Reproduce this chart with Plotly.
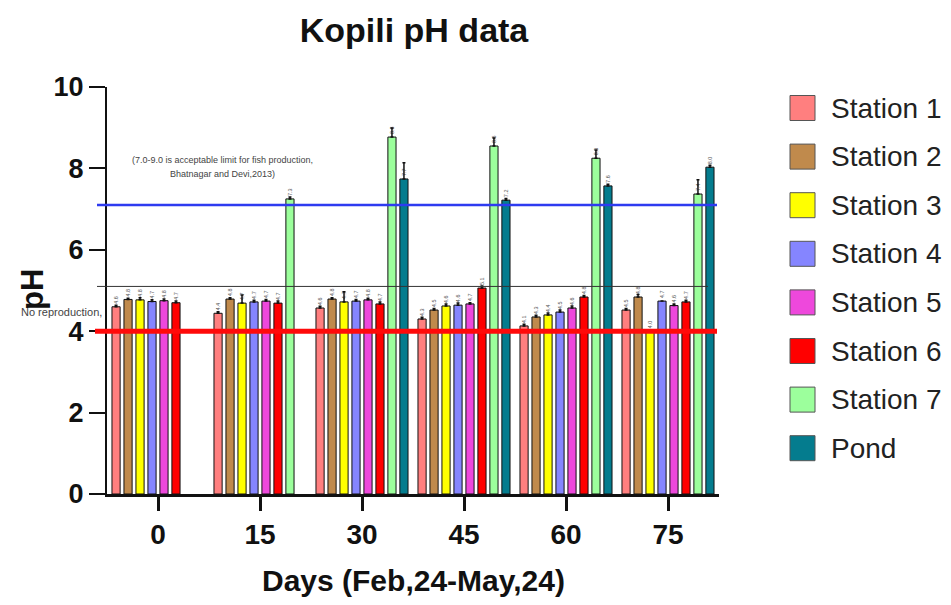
import plotly.graph_objects as go

# ---- data ----
days = ["0", "15", "30", "45", "60", "75"]
series_names = ["Station 1", "Station 2", "Station 3", "Station 4",
                "Station 5", "Station 6", "Station 7", "Pond"]
series_colors = ["#FF7F7F", "#C08A4C", "#FFFF00", "#8585FF",
                 "#EE48DC", "#FF0000", "#9CFF9C", "#047C8E"]

ph_station1 = [4.60, 4.44, 4.57, 4.30, 4.13, 4.52]
ph_station2 = [4.78, 4.79, 4.79, 4.52, 4.35, 4.84]
ph_station3 = [4.77, 4.69, 4.72, 4.62, 4.40, 4.00]
ph_station4 = [4.73, 4.72, 4.74, 4.64, 4.47, 4.74]
ph_station5 = [4.75, 4.74, 4.77, 4.67, 4.57, 4.63]
ph_station6 = [4.70, 4.69, 4.67, 5.06, 4.84, 4.72]
ph_station7 = [None, 7.25, 8.77, 8.55, 8.25, 7.37]
ph_pond = [None, None, 7.74, 7.22, 7.57, 8.03]

err_station1 = [0.04, 0.04, 0.04, 0.04, 0.04, 0.04]
err_station2 = [0.03, 0.03, 0.03, 0.04, 0.04, 0.06]
err_station3 = [0.05, 0.20, 0.25, 0.05, 0.05, 0.00]
err_station4 = [0.04, 0.04, 0.04, 0.05, 0.05, 0.00]
err_station5 = [0.04, 0.04, 0.04, 0.03, 0.05, 0.04]
err_station6 = [0.04, 0.05, 0.05, 0.05, 0.04, 0.04]
err_station7 = [0.00, 0.05, 0.22, 0.20, 0.20, 0.35]
err_pond = [0.00, 0.00, 0.40, 0.04, 0.04, 0.05]

ph_values = [ph_station1, ph_station2, ph_station3, ph_station4,
             ph_station5, ph_station6, ph_station7, ph_pond]
ph_errors = [err_station1, err_station2, err_station3, err_station4,
             err_station5, err_station6, err_station7, err_pond]

# reference limits
upper_limit = 7.1
reproduction_limit = 5.1
lower_limit = 4.0

# ---- figure geometry (pixels) ----
W, H = 951, 605
L, R, T, B = 107, 232, 87, 111
PW, PH = W - L - R, H - T - B


def px_x(px):
    return (px - L) / PW


def px_y(py):
    return (H - B - py) / PH


fig = go.Figure()

for name, color, vals, errs in zip(series_names, series_colors, ph_values, ph_errors):
    fig.add_trace(go.Bar(
        name=name,
        x=days,
        y=vals,
        marker=dict(color=color, line=dict(color="#111111", width=1)),
        error_y=dict(type="data", array=errs, arrayminus=[0] * len(errs),
                     symmetric=False, color="#111111", thickness=1.5, width=1.5),
        texttemplate="%{y:.1f}",
        textposition="outside",
        textangle=-90,
        textfont=dict(size=6, color="#555555", family="Liberation Sans"),
        cliponaxis=False,
        showlegend=False,
    ))

# horizontal reference lines
fig.add_shape(type="line", xref="paper", yref="y",
              x0=px_x(97), x1=px_x(708), y0=reproduction_limit, y1=reproduction_limit,
              line=dict(color="#333333", width=1), layer="above")
fig.add_shape(type="line", xref="paper", yref="y",
              x0=px_x(97), x1=px_x(717), y0=upper_limit, y1=upper_limit,
              line=dict(color="#2E3BF0", width=2.5), layer="above")
fig.add_shape(type="line", xref="paper", yref="y",
              x0=px_x(95), x1=px_x(717), y0=lower_limit, y1=lower_limit,
              line=dict(color="#FF0A0A", width=5), layer="above")

note_font = dict(size=9, color="#444444", family="Liberation Sans")
annotations = [
    dict(text="(7.0-9.0 is acceptable limit for fish production,",
         x=px_x(222), y=px_y(160), xref="paper", yref="paper",
         xanchor="center", yanchor="middle", showarrow=False, font=note_font),
    dict(text="Bhatnagar and Devi,2013)",
         x=px_x(222), y=px_y(174), xref="paper", yref="paper",
         xanchor="center", yanchor="middle", showarrow=False, font=note_font),
    dict(text="No reproduction,",
         x=px_x(19), y=px_y(312), xref="paper", yref="paper",
         xanchor="left", yanchor="middle", showarrow=False,
         font=dict(size=11, color="#444444", family="Liberation Sans")),
    dict(text="<b>pH</b>", textangle=-90,
         x=px_x(32), y=px_y(290), xref="paper", yref="paper",
         xanchor="center", yanchor="middle", showarrow=False,
         font=dict(size=31, color="#111111", family="Liberation Sans")),
    dict(text="<b>Days (Feb,24-May,24)</b>",
         x=px_x(413), y=px_y(580), xref="paper", yref="paper",
         xanchor="center", yanchor="middle", showarrow=False,
         font=dict(size=30, color="#111111", family="Liberation Sans")),
]

# legend drawn as boxes with labels
leg_y0, leg_step = 108, 48.6
for i, (name, color) in enumerate(zip(series_names, series_colors)):
    cy = leg_y0 + i * leg_step
    fig.add_shape(type="rect", xref="paper", yref="paper",
                  x0=px_x(790), x1=px_x(815), y0=px_y(cy - 12.5), y1=px_y(cy + 12.5),
                  fillcolor=color, line=dict(color="#555555", width=1))
    annotations.append(dict(text=name, x=px_x(829), y=px_y(cy), xref="paper", yref="paper",
                            xanchor="left", yanchor="middle", showarrow=False,
                            font=dict(size=28, color="#222222", family="Liberation Sans")))

fig.update_layout(
    width=W, height=H,
    margin=dict(l=L, r=R, t=T, b=B),
    paper_bgcolor="white", plot_bgcolor="white",
    barmode="group", bargap=0.06, bargroupgap=0.32,
    title=dict(text="<b>Kopili pH data</b>", x=px_x(414), xref="paper", xanchor="center",
               y=1 - 30 / H, yanchor="middle",
               font=dict(size=34, color="#111111", family="Liberation Sans")),
    annotations=annotations,
    font=dict(family="Liberation Sans"),
    xaxis=dict(type="category", range=[-0.5, 5.5], showline=True, linecolor="#111111",
               linewidth=2.5, ticks="outside", ticklen=14, tickwidth=2.5, tickcolor="#111111",
               showgrid=False, zeroline=False,
               tickfont=dict(size=28, color="#111111", weight="bold")),
    yaxis=dict(range=[0, 10], tickvals=[0, 2, 4, 6, 8, 10], showline=True,
               linecolor="#111111", linewidth=2, ticks="outside", ticklen=16, tickwidth=2,
               tickcolor="#111111", showgrid=False, zeroline=False,
               tickfont=dict(size=27, color="#111111", weight="bold")),
)

fig.write_html("out.html")
